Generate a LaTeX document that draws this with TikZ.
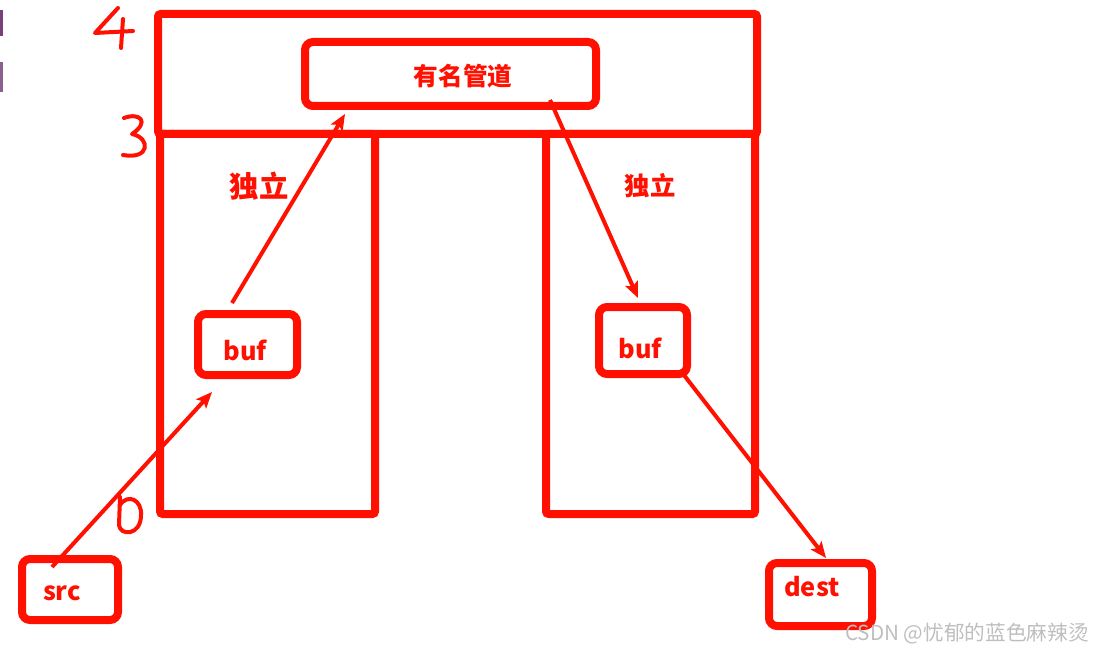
\documentclass[tikz,border=0pt]{standalone}
\usepackage{fontspec}
\newfontfamily\cjk{Noto Sans CJK SC}
\usetikzlibrary{arrows.meta}
\definecolor{myred}{RGB}{255,16,0}
\definecolor{wmgray}{RGB}{190,190,190}
\definecolor{purpA}{RGB}{122,62,122}
\definecolor{purpB}{RGB}{140,96,142}
\tikzset{
  bigframe/.style={draw=myred, line width=6pt, rounded corners=2pt, inner sep=0pt},
  smallbox/.style={draw=myred, line width=6pt, rounded corners=6pt, inner sep=0pt},
  lbl/.style={text=myred, inner sep=0pt, font=\cjk\bfseries\fontsize{19}{19}\selectfont},
  conn/.style={draw=myred, line width=3pt, -{Stealth[length=12pt,width=10pt,inset=2.5pt]}},
  hand/.style={draw=myred, line width=3pt, line cap=round, line join=round},
}
\begin{document}
\begin{tikzpicture}[x=0.75pt,y=-0.75pt]
\useasboundingbox (0,0) rectangle (1094,652);
% purple marks at left edge
\fill[purpA] (0,10) rectangle (3,36);
\fill[purpB] (0,62) rectangle (3,92);
% frames
\node[bigframe, minimum width=161.25pt, minimum height=285pt] (lpillar) at (267.5,324) {};
\node[bigframe, minimum width=156.75pt, minimum height=285pt] (rpillar) at (650.5,324) {};
\node[bigframe, minimum width=449.25pt, minimum height=90pt] (top) at (457.5,74) {};
\node[smallbox, minimum width=218.25pt, minimum height=48pt] (pipe) at (450.5,74) {};
\node[lbl, font=\cjk\bfseries\fontsize{18.5}{18.5}\selectfont] (pipetxt) at (463,76) {有名管道};
\node[smallbox, minimum width=74.25pt, minimum height=45.75pt] (lbuf) at (247.5,344.5) {};
\node[lbl] (lbuftxt) at (245,350) {buf};
\node[smallbox, minimum width=66pt, minimum height=50.25pt] (rbuf) at (643,340.5) {};
\node[lbl] (rbuftxt) at (640,348) {buf};
\node[smallbox, minimum width=72pt, minimum height=45.75pt] (src) at (70,589.5) {};
\node[lbl] (srctxt) at (62,593) {src};
\node[smallbox, minimum width=77.25pt, minimum height=47.25pt] (dest) at (820.5,594.5) {};
\node[lbl] (desttxt) at (812,587) {dest};
\node[lbl, font=\cjk\bfseries\fontsize{22}{22}\selectfont] (indepL) at (259,186) {独立};
\node[lbl, font=\cjk\bfseries\fontsize{19}{19}\selectfont] (indepR) at (650,186) {独立};
% arrow end points
\coordinate (a1s) at (52,567);  \coordinate (a1e) at (212,392);
\coordinate (a2s) at (232,303); \coordinate (a2e) at (345,114);
\coordinate (a3s) at (550,100); \coordinate (a3e) at (638,298);
\coordinate (a4s) at (680,370); \coordinate (a4e) at (826,558);
\draw[conn] (a1s) -- (a1e);
\draw[conn] (a2s) -- (a2e);
\draw[conn] (a3s) -- (a3e);
\draw[conn] (a4s) -- (a4e);
% handwritten digits
\draw[hand] (118,8) -- (95,33) -- (133,31);
\draw[hand] (123,19) -- (121,48);
\draw[hand] (124,118) .. controls (140,112) and (150,122) .. (132,134) .. controls (151,138) and (150,160) .. (123,155);
\draw[hand] (120,497) -- (119,525) .. controls (120,536) and (141,536) .. (141,515) .. controls (142,500) and (128,493) .. (120,505);
% watermark
\node[text=wmgray, inner sep=0pt, font=\cjk\fontsize{15.5}{15.5}\selectfont, anchor=east] (wm) at (1089,634) {CSDN @忧郁的蓝色麻辣烫};
\end{tikzpicture}
\end{document}
